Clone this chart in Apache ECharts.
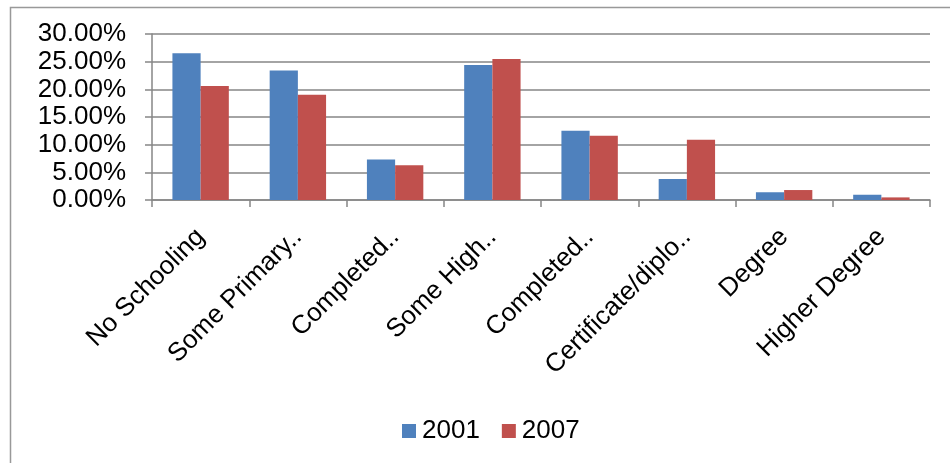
<!DOCTYPE html>
<html>
<head>
<meta charset="utf-8">
<script src="https://cdn.jsdelivr.net/npm/echarts@6/dist/echarts.min.js"></script>
<style>html,body{margin:0;padding:0;background:#fff;}#c{width:950px;height:463px;}</style>
</head>
<body>
<div id="c"></div>
<script>
var categories = ["No Schooling", "Some Primary..", "Completed..", "Some High..", "Completed..", "Certificate/diplo..", "Degree", "Higher Degree"];
var series2001 = [0.265, 0.234, 0.073, 0.244, 0.125, 0.038, 0.014, 0.0095];
var series2007 = [0.206, 0.190, 0.063, 0.255, 0.116, 0.109, 0.018, 0.0047];
var seriesNames = ["2001", "2007"];
var yTicks = { min: 0, max: 0.30, interval: 0.05 };

var chart = echarts.init(document.getElementById('c'), null, { renderer: 'canvas' });
var font = '"Liberation Sans", Arial, sans-serif';
chart.setOption({
  animation: false,
  backgroundColor: '#fff',
  textStyle: { fontFamily: font },
  color: ['#4F81BD', '#C0504D'],
  graphic: [{
    type: 'rect', left: 8, top: 5, z: -1,
    shape: { width: 1000, height: 600 },
    style: { fill: 'none', stroke: '#999', lineWidth: 1.5 }
  }],
  grid: { left: 152, right: 20, top: 34, bottom: 263, containLabel: false },
  legend: {
    data: seriesNames,
    left: 397, top: 413,
    itemWidth: 14, itemHeight: 14, itemGap: 22,
    icon: 'rect',
    textStyle: { fontSize: 26, color: '#000', fontFamily: font, padding: [0, 0, 0, 1] }
  },
  xAxis: {
    type: 'category',
    data: categories,
    boundaryGap: true,
    axisLine: { lineStyle: { color: '#868686', width: 1.5 } },
    axisTick: { show: true, length: 7, alignWithLabel: false, lineStyle: { color: '#868686', width: 1.5 } },
    axisLabel: { rotate: 45, interval: 0, fontSize: 26, color: '#000', margin: 33, fontFamily: font }
  },
  yAxis: {
    type: 'value',
    min: yTicks.min, max: yTicks.max, interval: yTicks.interval,
    axisLine: { show: true, lineStyle: { color: '#868686', width: 1.5 } },
    axisTick: { show: true, length: 7, lineStyle: { color: '#868686', width: 1.5 } },
    splitLine: { show: true, lineStyle: { color: '#868686', width: 1.5 } },
    axisLabel: {
      fontSize: 26, color: '#000', margin: 26, fontFamily: font,
      formatter: function (v) { return (v * 100).toFixed(2) + '%'; }
    }
  },
  series: [
    { name: seriesNames[0], type: 'bar', data: series2001, barGap: '0%', barCategoryGap: '42%' },
    { name: seriesNames[1], type: 'bar', data: series2007, barGap: '0%', barCategoryGap: '42%' }
  ]
});
</script>
</body>
</html>
